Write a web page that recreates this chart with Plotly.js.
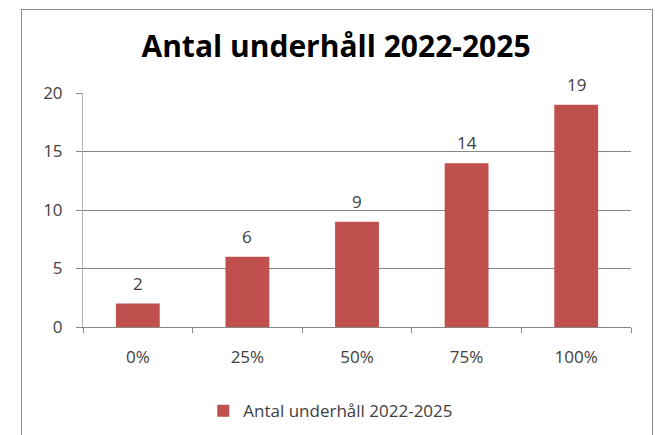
<!DOCTYPE html>
<html>
<head>
<meta charset="utf-8">
<script src="https://cdn.plot.ly/plotly-3.0.1.min.js"></script>
<style>
  html, body { margin: 0; padding: 0; background: #ffffff; }
  #wrap { position: relative; width: 655px; height: 435px; overflow: hidden; }
  #chart { position: absolute; left: 0; top: 0; width: 655px; height: 435px; }
  #frame { position: absolute; left: 21px; top: 9px; width: 630px; height: 460px;
           border: 1px solid #8c8c8c; pointer-events: none; }
</style>
</head>
<body>
<div id="wrap">
  <div id="chart"></div>
  <div id="frame"></div>
</div>
<script>
const categories = ["0%", "25%", "50%", "75%", "100%"];
const values = [2, 6, 9, 14, 19];
const seriesName = "Antal underhåll 2022-2025";
const chartTitle = "Antal underhåll 2022-2025";
const yTicks = [0, 5, 10, 15, 20];

const FONT = "Open Sans, sans-serif";

const trace = {
  type: "bar",
  x: categories,
  y: values,
  name: seriesName,
  marker: { color: "#C0504D" },
  hoverinfo: "x+y"
};

const labels = categories.map((c, i) => ({
  x: c, y: values[i], xref: "x", yref: "y",
  text: String(values[i]),
  showarrow: false,
  yanchor: "bottom",
  yshift: 7,
  font: { family: FONT, size: 17, color: "#404040" }
}));

const layout = {
  width: 655,
  height: 435,
  paper_bgcolor: "#ffffff",
  plot_bgcolor: "#ffffff",
  margin: { l: 83, r: 24, t: 93, b: 108 },
  title: {
    text: "<b>" + chartTitle + "</b>",
    font: { family: FONT, size: 30, color: "#000000" },
    xref: "container", x: 0.513, xanchor: "center",
    yref: "container", y: 0.892, yanchor: "middle"
  },
  bargap: 0.6,
  showlegend: true,
  legend: {
    orientation: "h",
    xref: "container", x: 0.505, xanchor: "center",
    yref: "container", y: 0.055, yanchor: "middle",
    font: { family: FONT, size: 17, color: "#404040" },
    itemwidth: 30
  },
  annotations: labels,
  xaxis: {
    type: "category",
    showline: true, linecolor: "#868686", linewidth: 1,
    ticks: "outside", ticklen: 5, tickcolor: "#868686",
    tickson: "boundaries",
    tickfont: { family: FONT, size: 17, color: "#404040" },
    ticklabelstandoff: 15,
    showgrid: false, zeroline: false, fixedrange: true
  },
  yaxis: {
    range: [0, 20],
    tickvals: yTicks,
    ticktext: yTicks.map(String),
    showline: true, linecolor: "#b0b0b0", linewidth: 1,
    ticks: "outside", ticklen: 6, tickcolor: "#868686",
    showgrid: true, gridcolor: "#868686", gridwidth: 1,
    zeroline: false,
    tickfont: { family: FONT, size: 17, color: "#404040" },
    ticklabelstandoff: 10,
    fixedrange: true
  }
};

Plotly.newPlot("chart", [trace], layout, { displayModeBar: false, staticPlot: true });
</script>
</body>
</html>
